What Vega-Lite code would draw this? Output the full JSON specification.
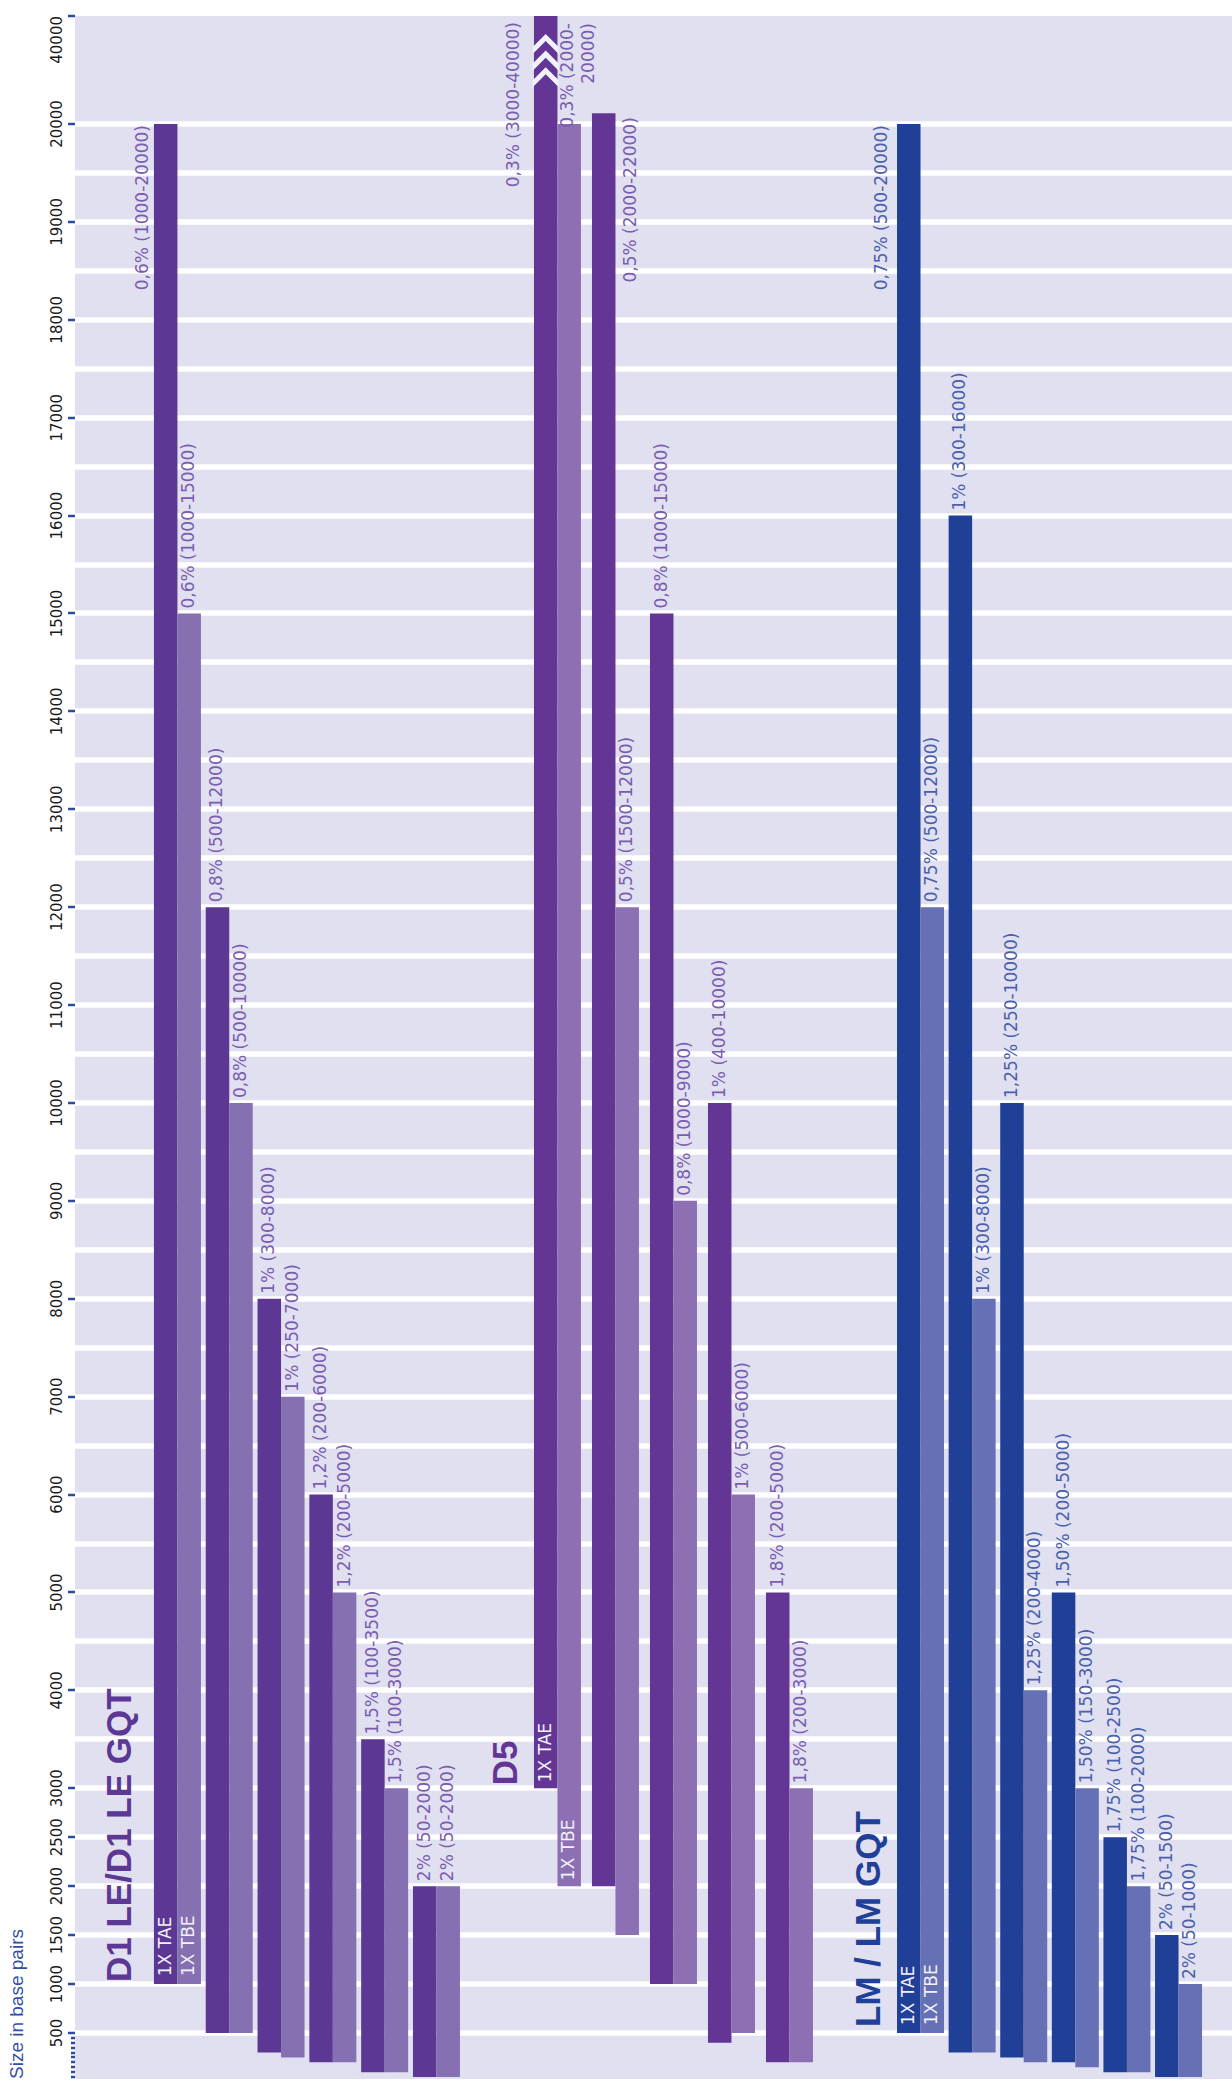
{
  "$schema": "https://vega.github.io/schema/vega-lite/v6.json",
  "padding": {"left": 8, "top": 14, "right": 0, "bottom": 0},
  "background": "white",
  "spacing": 0,
  "config": {
    "view": {"fill": "#e0e0f0", "stroke": null},
    "concat": {"spacing": 0},
    "axis": {"translate": 0},
    "text": {"font": "DejaVu Sans", "fontSize": 17}
  },
  "data": {
    "values": [
      {"group": "D1", "pair": "p1", "member": "TAE", "lo": 1000, "hi": 20000, "label": "0,6% (1000-20000)", "tag": "1X TAE", "gtitle": "D1 LE/D1 LE GQT"},
      {"group": "D1", "pair": "p1", "member": "TBE", "lo": 1000, "hi": 15000, "label": "0,6% (1000-15000)", "tag": "1X TBE"},
      {"group": "D1", "pair": "p2", "member": "TAE", "lo": 500, "hi": 12000, "label": "0,8% (500-12000)"},
      {"group": "D1", "pair": "p2", "member": "TBE", "lo": 500, "hi": 10000, "label": "0,8% (500-10000)"},
      {"group": "D1", "pair": "p3", "member": "TAE", "lo": 300, "hi": 8000, "label": "1% (300-8000)"},
      {"group": "D1", "pair": "p3", "member": "TBE", "lo": 250, "hi": 7000, "label": "1% (250-7000)"},
      {"group": "D1", "pair": "p4", "member": "TAE", "lo": 200, "hi": 6000, "label": "1,2% (200-6000)"},
      {"group": "D1", "pair": "p4", "member": "TBE", "lo": 200, "hi": 5000, "label": "1,2% (200-5000)"},
      {"group": "D1", "pair": "p5", "member": "TAE", "lo": 100, "hi": 3500, "label": "1,5% (100-3500)"},
      {"group": "D1", "pair": "p5", "member": "TBE", "lo": 100, "hi": 3000, "label": "1,5% (100-3000)"},
      {"group": "D1", "pair": "p6", "member": "TAE", "lo": 50, "hi": 2000, "label": "2% (50-2000)"},
      {"group": "D1", "pair": "p6", "member": "TBE", "lo": 50, "hi": 2000, "label": "2% (50-2000)"},
      {"group": "D5", "pair": "p1", "member": "TAE", "lo": 3000, "hi": 40000, "label": "0,3% (3000-40000)", "tag": "1X TAE", "gtitle": "D5"},
      {"group": "D5", "pair": "p1", "member": "TBE", "lo": 2000, "hi": 20000, "label": "0,3% (2000-\n20000)", "tag": "1X TBE"},
      {"group": "D5", "pair": "p2", "member": "TAE", "lo": 2000, "hi": 22000, "label": "0,5% (2000-22000)"},
      {"group": "D5", "pair": "p2", "member": "TBE", "lo": 1500, "hi": 12000, "label": "0,5% (1500-12000)"},
      {"group": "D5", "pair": "p3", "member": "TAE", "lo": 1000, "hi": 15000, "label": "0,8% (1000-15000)"},
      {"group": "D5", "pair": "p3", "member": "TBE", "lo": 1000, "hi": 9000, "label": "0,8% (1000-9000)"},
      {"group": "D5", "pair": "p4", "member": "TAE", "lo": 400, "hi": 10000, "label": "1% (400-10000)"},
      {"group": "D5", "pair": "p4", "member": "TBE", "lo": 500, "hi": 6000, "label": "1% (500-6000)"},
      {"group": "D5", "pair": "p5", "member": "TAE", "lo": 200, "hi": 5000, "label": "1,8% (200-5000)"},
      {"group": "D5", "pair": "p5", "member": "TBE", "lo": 200, "hi": 3000, "label": "1,8% (200-3000)"},
      {"group": "LM", "pair": "p1", "member": "TAE", "lo": 500, "hi": 20000, "label": "0,75% (500-20000)", "tag": "1X TAE", "gtitle": "LM / LM GQT"},
      {"group": "LM", "pair": "p1", "member": "TBE", "lo": 500, "hi": 12000, "label": "0,75% (500-12000)", "tag": "1X TBE"},
      {"group": "LM", "pair": "p2", "member": "TAE", "lo": 300, "hi": 16000, "label": "1% (300-16000)"},
      {"group": "LM", "pair": "p2", "member": "TBE", "lo": 300, "hi": 8000, "label": "1% (300-8000)"},
      {"group": "LM", "pair": "p3", "member": "TAE", "lo": 250, "hi": 10000, "label": "1,25% (250-10000)"},
      {"group": "LM", "pair": "p3", "member": "TBE", "lo": 200, "hi": 4000, "label": "1,25% (200-4000)"},
      {"group": "LM", "pair": "p4", "member": "TAE", "lo": 200, "hi": 5000, "label": "1,50% (200-5000)"},
      {"group": "LM", "pair": "p4", "member": "TBE", "lo": 150, "hi": 3000, "label": "1,50% (150-3000)"},
      {"group": "LM", "pair": "p5", "member": "TAE", "lo": 100, "hi": 2500, "label": "1,75% (100-2500)"},
      {"group": "LM", "pair": "p5", "member": "TBE", "lo": 100, "hi": 2000, "label": "1,75% (100-2000)"},
      {"group": "LM", "pair": "p6", "member": "TAE", "lo": 50, "hi": 1500, "label": "2% (50-1500)"},
      {"group": "LM", "pair": "p6", "member": "TBE", "lo": 50, "hi": 1000, "label": "2% (50-1000)"}
    ]
  },
  "resolve": {"scale": {"color": "independent"}},
  "hconcat": [
    {
      "width": 400,
      "height": 2063,
      "transform": [{"filter": "datum.group == 'D1'"}],
      "encoding": {
        "x": {"field": "pair", "type": "nominal", "axis": null, "scale": {"type": "band", "domain": ["p1","p2","p3","p4","p5","p6"], "paddingInner": 0.0927, "paddingOuter": 0.907, "align": 0.84}},
        "xOffset": {"field": "member", "type": "nominal", "scale": {"domain": ["TAE","TBE"], "paddingInner": 0, "paddingOuter": 0}},
        "y": {"field": "hi", "type": "quantitative",
          "scale": {"domain": [30, 20000, 40000], "range": [2063, 108, 0], "nice": false, "zero": false},
          "axis": {
            "title": "Size in base pairs",
            "values": [50,100,150,200,250,300,350,400,450,500,1000,1500,2000,2500,3000,3500,4000,4500,5000,5500,6000,6500,7000,7500,8000,8500,9000,9500,10000,10500,11000,11500,12000,12500,13000,13500,14000,14500,15000,15500,16000,16500,17000,17500,18000,18500,19000,19500,20000,40000],
            "format": "d",
            "labelExpr": "(datum.value >= 500 && (datum.value <= 3000 || datum.value % 1000 == 0)) ? datum.label : ''",
            "labelAngle": 270,
            "labelAlign": {"condition": {"test": "datum.value == 40000", "value": "right"}, "value": "center"},
            "labelBaseline": "alphabetic",
            "labelFont": "DejaVu Sans",
            "labelFontSize": 15,
            "labelColor": "#1a1a1a",
            "labelPadding": 6,
            "labelOverlap": false,
            "labelFlush": false,
            "tickSize": {"condition": {"test": "datum.value < 500", "value": 4}, "value": 7},
            "tickWidth": 2.5,
            "tickColor": {"condition": {"test": "datum.value > 3000 && datum.value < 40000 && datum.value % 1000 != 0", "value": "transparent"}, "value": "#2a4ba0"},
            "grid": true,
            "gridColor": {"condition": {"test": "datum.value >= 500 && datum.value <= 20000", "value": "#ffffff"}, "value": "transparent"},
            "gridWidth": 5.5,
            "domain": false,
            "titleAngle": 270,
            "titleX": -52,
            "titleY": 2063,
            "titleAlign": "left",
            "titleAnchor": "start",
            "titleBaseline": "alphabetic",
            "titleFont": "Liberation Sans",
            "titleFontSize": 19,
            "titleFontWeight": "normal",
            "titleColor": "#3250a5"
          }
        }
      },
      "layer": [
        {
          "mark": {"type": "bar"},
          "encoding": {
            "y2": {"field": "lo"},
            "color": {"field": "member", "type": "nominal", "legend": null, "scale": {"domain": ["TAE","TBE"], "range": ["#5c3894", "#8571b1"]}}
          }
        },
        {
          "transform": [{"filter": "!(datum.pair == 'p1' && datum.member == 'TAE')"}],
          "mark": {"type": "text", "angle": 270, "align": "left", "baseline": "middle", "dx": 5, "color": "#7a5cb0"},
          "encoding": {"text": {"field": "label", "type": "nominal"}}
        },
        {
          "transform": [{"filter": "datum.pair == 'p1' && datum.member == 'TAE'"}],
          "mark": {"type": "text", "angle": 270, "align": "right", "baseline": "bottom", "dx": -1, "dy": -14, "color": "#7a5cb0"},
          "encoding": {"text": {"field": "label", "type": "nominal"}}
        },
        {
          "transform": [{"filter": "isValid(datum.tag)"}],
          "mark": {"type": "text", "angle": 270, "align": "left", "baseline": "middle", "dx": 8, "color": "#f2f2fa"},
          "encoding": {"y": {"field": "lo", "type": "quantitative"}, "text": {"field": "tag", "type": "nominal"}}
        },
        {
          "transform": [{"filter": "isValid(datum.gtitle)"}],
          "mark": {"type": "text", "angle": 270, "align": "left", "baseline": "middle", "dx": 2, "dy": -46, "font": "Liberation Sans", "fontSize": 35, "fontWeight": "bold", "color": "#5c3894"},
          "encoding": {"y": {"field": "lo", "type": "quantitative"}, "text": {"field": "gtitle", "type": "nominal"}}
        }
      ]
    },
    {
      "width": 360,
      "height": 2063,
      "transform": [{"filter": "datum.group == 'D5'"}],
      "encoding": {
        "x": {"field": "pair", "type": "nominal", "axis": null, "scale": {"type": "band", "domain": ["p1","p2","p3","p4","p5"], "paddingInner": 0.1034, "paddingOuter": 0.655, "align": 0.776}},
        "xOffset": {"field": "member", "type": "nominal", "scale": {"domain": ["TAE","TBE"], "paddingInner": 0, "paddingOuter": 0}},
        "y": {"field": "hi", "type": "quantitative",
          "scale": {"domain": [30, 20000, 40000], "range": [2063, 108, 0], "nice": false, "zero": false},
          "axis": {
            "title": null, "labels": false, "ticks": false, "domain": false,
            "values": [500,1000,1500,2000,2500,3000,3500,4000,4500,5000,5500,6000,6500,7000,7500,8000,8500,9000,9500,10000,10500,11000,11500,12000,12500,13000,13500,14000,14500,15000,15500,16000,16500,17000,17500,18000,18500,19000,19500,20000],
            "grid": true, "gridColor": "#ffffff", "gridWidth": 5.5
          }
        }
      },
      "layer": [
        {
          "mark": {"type": "bar"},
          "encoding": {
            "y2": {"field": "lo"},
            "color": {"field": "member", "type": "nominal", "legend": null, "scale": {"domain": ["TAE","TBE"], "range": ["#633696", "#8d70b3"]}}
          }
        },
        {
          "transform": [{"filter": "datum.pair == 'p1' && datum.member == 'TAE'"}],
          "mark": {"type": "point", "shape": "M0,1.38L1,2.38L1,2.93L0,1.93L-1,2.93L-1,2.38ZM0,2.66L1,3.66L1,4.21L0,3.21L-1,4.21L-1,3.66ZM0,3.94L1,4.94L1,5.49L0,4.49L-1,5.49L-1,4.94Z", "size": 676, "filled": true, "opacity": 1, "color": "#f2f2fa", "strokeWidth": 0}
        },
        {
          "transform": [{"filter": "datum.pair != 'p1' && !(datum.pair == 'p2' && datum.member == 'TAE')"}],
          "mark": {"type": "text", "angle": 270, "align": "left", "baseline": "middle", "dx": 5, "color": "#7a5cb0"},
          "encoding": {"text": {"field": "label", "type": "nominal"}}
        },
        {
          "transform": [{"filter": "datum.pair == 'p1' && datum.member == 'TAE'"}],
          "mark": {"type": "text", "angle": 270, "align": "right", "baseline": "bottom", "dx": -6, "dy": -23, "color": "#7a5cb0"},
          "encoding": {"text": {"field": "label", "type": "nominal"}}
        },
        {
          "transform": [{"filter": "datum.pair == 'p1' && datum.member == 'TBE'"}],
          "mark": {"type": "text", "angle": 270, "align": "right", "baseline": "top", "dx": 101, "dy": -9, "lineBreak": "\n", "lineHeight": 21, "color": "#7a5cb0"},
          "encoding": {"text": {"field": "label", "type": "nominal"}}
        },
        {
          "transform": [{"filter": "datum.pair == 'p2' && datum.member == 'TAE'"}],
          "mark": {"type": "text", "angle": 270, "align": "right", "baseline": "top", "dx": -4, "dy": 19, "color": "#7a5cb0"},
          "encoding": {"text": {"field": "label", "type": "nominal"}}
        },
        {
          "transform": [{"filter": "isValid(datum.tag)"}],
          "mark": {"type": "text", "angle": 270, "align": "left", "baseline": "middle", "dx": 6, "color": "#f2f2fa"},
          "encoding": {"y": {"field": "lo", "type": "quantitative"}, "text": {"field": "tag", "type": "nominal"}}
        },
        {
          "transform": [{"filter": "isValid(datum.gtitle)"}],
          "mark": {"type": "text", "angle": 270, "align": "left", "baseline": "middle", "dx": 3, "dy": -40, "font": "Liberation Sans", "fontSize": 35, "fontWeight": "bold", "color": "#633696"},
          "encoding": {"y": {"field": "lo", "type": "quantitative"}, "text": {"field": "gtitle", "type": "nominal"}}
        }
      ]
    },
    {
      "width": 397,
      "height": 2063,
      "transform": [{"filter": "datum.group == 'LM'"}],
      "encoding": {
        "x": {"field": "pair", "type": "nominal", "axis": null, "scale": {"type": "band", "domain": ["p1","p2","p3","p4","p5","p6"], "paddingInner": 0.1085, "paddingOuter": 0.901, "align": 0.667}},
        "xOffset": {"field": "member", "type": "nominal", "scale": {"domain": ["TAE","TBE"], "paddingInner": 0, "paddingOuter": 0}},
        "y": {"field": "hi", "type": "quantitative",
          "scale": {"domain": [30, 20000, 40000], "range": [2063, 108, 0], "nice": false, "zero": false},
          "axis": {
            "title": null, "labels": false, "ticks": false, "domain": false,
            "values": [500,1000,1500,2000,2500,3000,3500,4000,4500,5000,5500,6000,6500,7000,7500,8000,8500,9000,9500,10000,10500,11000,11500,12000,12500,13000,13500,14000,14500,15000,15500,16000,16500,17000,17500,18000,18500,19000,19500,20000],
            "grid": true, "gridColor": "#ffffff", "gridWidth": 5.5
          }
        }
      },
      "layer": [
        {
          "mark": {"type": "bar"},
          "encoding": {
            "y2": {"field": "lo"},
            "color": {"field": "member", "type": "nominal", "legend": null, "scale": {"domain": ["TAE","TBE"], "range": ["#1f4096", "#6670b4"]}}
          }
        },
        {
          "transform": [{"filter": "!(datum.pair == 'p1' && datum.member == 'TAE')"}],
          "mark": {"type": "text", "angle": 270, "align": "left", "baseline": "middle", "dx": 5, "color": "#4a60ad"},
          "encoding": {"text": {"field": "label", "type": "nominal"}}
        },
        {
          "transform": [{"filter": "datum.pair == 'p1' && datum.member == 'TAE'"}],
          "mark": {"type": "text", "angle": 270, "align": "right", "baseline": "bottom", "dx": -1, "dy": -18, "color": "#4a60ad"},
          "encoding": {"text": {"field": "label", "type": "nominal"}}
        },
        {
          "transform": [{"filter": "isValid(datum.tag)"}],
          "mark": {"type": "text", "angle": 270, "align": "left", "baseline": "middle", "dx": 8, "color": "#f2f2fa"},
          "encoding": {"y": {"field": "lo", "type": "quantitative"}, "text": {"field": "tag", "type": "nominal"}}
        },
        {
          "transform": [{"filter": "isValid(datum.gtitle)"}],
          "mark": {"type": "text", "angle": 270, "align": "left", "baseline": "middle", "dx": 6, "dy": -40, "font": "Liberation Sans", "fontSize": 35, "fontWeight": "bold", "color": "#1f4096"},
          "encoding": {"y": {"field": "lo", "type": "quantitative"}, "text": {"field": "gtitle", "type": "nominal"}}
        }
      ]
    }
  ]
}
